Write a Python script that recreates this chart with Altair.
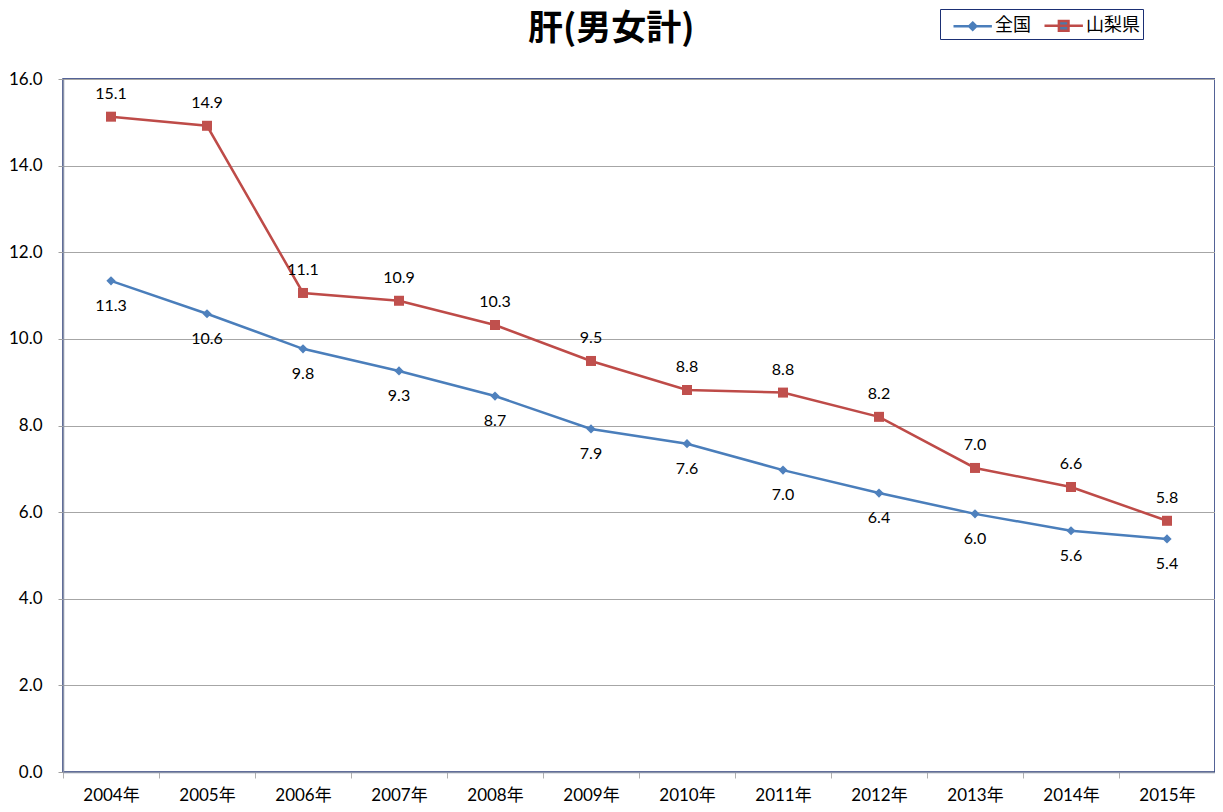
import altair as alt
import pandas as pd

years = ["2004年", "2005年", "2006年", "2007年", "2008年", "2009年",
         "2010年", "2011年", "2012年", "2013年", "2014年", "2015年"]
national = [11.34, 10.58, 9.77, 9.26, 8.68, 7.92, 7.58, 6.97, 6.44, 5.96, 5.57, 5.38]
yamanashi = [15.13, 14.92, 11.06, 10.88, 10.32, 9.49, 8.82, 8.76, 8.20, 7.02, 6.58, 5.80]
series_names = ["全国", "山梨県"]
y_ticks = [0, 2, 4, 6, 8, 10, 12, 14, 16]

BLUE_LINE = "#4A7EBB"
RED_LINE = "#BE4B48"
BLUE_MK = "#4F81BD"
RED_MK = "#C0504D"
AXIS_C = "#8A93A8"
GRID_C = "#A6A6A6"
NAVY = "#1B2F74"
FONT = "Lato, Noto Sans CJK JP, sans-serif"
JFONT = "Noto Sans CJK JP"

rows = []
for yr, v in zip(years, national):
    rows.append({"year": yr, "series": "全国", "value": v})
for yr, v in zip(years, yamanashi):
    rows.append({"year": yr, "series": "山梨県", "value": v})
df = pd.DataFrame(rows)

x = alt.X("year:N", sort=years,
          scale=alt.Scale(type="band", paddingInner=0, paddingOuter=0),
          axis=alt.Axis(title=None, labelAngle=0, tickBand="extent",
                        domainColor=AXIS_C, domainWidth=1.5, tickColor="#B0B0B0",
                        tickSize=6, labelPadding=9, labelFont=FONT,
                        labelFontSize=17, labelColor="#000000", grid=False))
y = alt.Y("value:Q", scale=alt.Scale(domain=[0, 16], nice=False),
          axis=alt.Axis(title=None, values=y_ticks, format=".1f",
                        domainColor=AXIS_C, domainWidth=1.5, tickColor="#A0A0A0",
                        tickSize=5, labelPadding=16, labelFont=FONT,
                        labelFontSize=17, labelColor="#000000",
                        grid=True, gridColor=GRID_C, gridWidth=1))

leg = alt.Legend(
    title=None, orient="none", legendX=877, legendY=-70,
    direction="horizontal", symbolSize=576, symbolStrokeWidth=2.5,
    symbolOpacity=1, labelFont=JFONT, labelFontSize=18, labelColor="#000000",
    strokeColor=NAVY, padding=3, columnPadding=3, labelOffset=25,
)
shape_paths = ["M-0.25,0L2.95,0M1.35,-0.3L1.65,0L1.35,0.3L1.05,0Z",
               "M-0.25,0L2.95,0M0.95,-0.4L1.75,-0.4L1.75,0.4L0.95,0.4Z"]

color = alt.Color("series:N",
                  scale=alt.Scale(domain=series_names, range=[BLUE_LINE, RED_LINE]),
                  legend=leg)

base = alt.Chart(df)

lines = base.mark_line(strokeWidth=2.5).encode(x=x, y=y, color=color)

blue_pts = base.transform_filter(alt.datum.series == "全国").mark_point(
    shape="diamond", filled=True, size=85, opacity=1, color=BLUE_MK
).encode(x=x, y=y)
red_pts = base.transform_filter(alt.datum.series == "山梨県").mark_point(
    shape="square", filled=True, size=100, opacity=1, color=RED_MK
).encode(x=x, y=y)

blue_lbl = base.transform_filter(alt.datum.series == "全国").mark_text(
    dy=25, font=FONT, fontSize=16, color="#000000"
).encode(x=x, y=y, text=alt.Text("value:Q", format=".1f"))
red_lbl = base.transform_filter(alt.datum.series == "山梨県").mark_text(
    dy=-23, font=FONT, fontSize=16, color="#000000"
).encode(x=x, y=y, text=alt.Text("value:Q", format=".1f"))

# legend-only layer (supplies the marker shapes of the legend); its marks are clipped away
legend_layer = base.mark_point(
    filled=True, size=576, strokeWidth=2.5, clip=True
).encode(
    x=x, y=alt.value(-300),
    shape=alt.Shape("series:N", scale=alt.Scale(domain=series_names, range=shape_paths), legend=leg),
)

chart = alt.layer(lines, blue_pts, red_pts, blue_lbl, red_lbl, legend_layer).properties(
    width=1152, height=693,
    padding={"left": 55, "top": 71, "right": 0, "bottom": 32},
    autosize=alt.AutoSizeParams(type="none"),
    title=alt.TitleParams("肝(男女計)", font=JFONT, fontSize=35, fontWeight="bold",
                          color="#000000", anchor="start", frame="group",
                          dx=465, dy=38, offset=0),
).configure_view(stroke=NAVY, strokeWidth=1.5)

chart.save("out.html", embed_options={"renderer": "svg", "actions": False})
